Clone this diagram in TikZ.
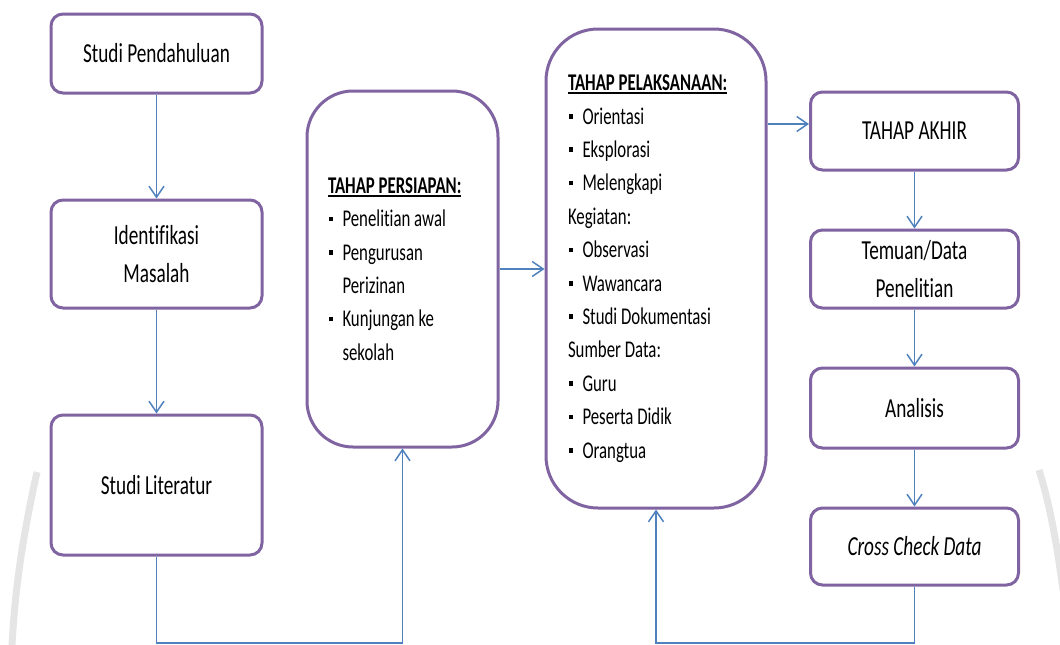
\documentclass[tikz,border=0pt]{standalone}
\usepackage{fontspec}
\setmainfont{Carlito}[FakeStretch=0.7,Ligatures=NoCommon]
\usetikzlibrary{arrows.meta}
\definecolor{boxpurple}{HTML}{8064A2}
\definecolor{arrblue}{HTML}{4F81BD}
\newcommand\ulhead[1]{\setbox0\hbox{#1}\rlap{\rule[-3.5pt]{\wd0}{1.8pt}}\box0}
\newcommand\bul[1]{\makebox[14.5pt][l]{\hspace*{0.5pt}\raisebox{5.5pt}{\rule{4.5pt}{4.5pt}}}#1}
\newcommand\cont[1]{\hspace*{14.5pt}#1}
\begin{document}
\begin{tikzpicture}[x=1pt,y=-1pt,
  box/.style={draw=boxpurple, line width=3pt, rounded corners=12pt, fill=white,
    align=center, inner sep=0pt, font=\fontsize{27.5}{38}\selectfont},
  bigbox/.style={draw=boxpurple, line width=3pt, fill=white, align=flush left,
    inner ysep=0pt, font=\fontsize{24}{33.4}\selectfont},
  arr/.style={draw=arrblue, line width=1.5pt, -{Straight Barb[length=11pt,width=15pt]}},
  ln/.style={draw=arrblue, line width=1.5pt}]
\useasboundingbox (0,0) rectangle (1060,645);
% faint watermark edges
\draw[black!10, line width=7pt] (37,472) .. controls (22,540) and (15,590) .. (12,645);
\draw[black!10, line width=7pt] (1039,470) .. controls (1050,505) and (1057,545) .. (1063,590);
% left column
\node[box, minimum width=211pt, minimum height=79pt] (sp) at (156.5,53.5) {Studi Pendahuluan};
\node[box, minimum width=211pt, minimum height=108pt] (im) at (156.5,254) {Identifikasi\\Masalah};
\node[box, minimum width=211pt, minimum height=140pt] (sl) at (156.5,485) {Studi Literatur};
% persiapan
\node[bigbox, rounded corners=46pt, minimum width=191pt, minimum height=356pt,
      text width=149pt, inner xsep=21pt] (tp) at (402.5,269)
  {\bfseries\ulhead{TAHAP PERSIAPAN:}\mdseries\\
   \bul{Penelitian awal}\\
   \bul{Pengurusan}\\
   \cont{Perizinan}\\
   \bul{Kunjungan ke}\\
   \cont{sekolah}};
% pelaksanaan
\node[bigbox, rounded corners=52pt, minimum width=220pt, minimum height=479pt,
      text width=176pt, inner xsep=22pt] (tl) at (656,268.5)
  {\bfseries\ulhead{TAHAP PELAKSANAAN:}\mdseries\\
   \bul{Orientasi}\\
   \bul{Eksplorasi}\\
   \bul{Melengkapi}\\
   Kegiatan:\\
   \bul{Observasi}\\
   \bul{Wawancara}\\
   \bul{Studi Dokumentasi}\\
   Sumber Data:\\
   \bul{Guru}\\
   \bul{Peserta Didik}\\
   \bul{Orangtua}};
% right column
\node[box, minimum width=208pt, minimum height=78pt] (ta) at (914.5,131) {TAHAP AKHIR};
\node[box, minimum width=208pt, minimum height=78pt] (td) at (914.5,269) {Temuan/Data\\Penelitian};
\node[box, minimum width=208pt, minimum height=80pt] (an) at (914.5,408) {Analisis};
\node[box, minimum width=208pt, minimum height=77pt] (cc) at (914.5,546.5) {\itshape Cross Check Data};
% connectors
\draw[arr] (sp.south) -- (im.north);
\draw[arr] (im.south) -- (sl.north);
\coordinate (bl) at (156.5,643);
\coordinate (br) at (914.5,643);
\draw[arr] (sl.south) -- (bl) -| (tp.south);
\draw[arr] (tp.east) -- (tp.east -| tl.west);
\coordinate (tly) at (0,124);
\draw[arr] (tl.east |- tly) -- (ta.west |- tly);
\draw[arr] (ta.south) -- (td.north);
\draw[arr] (td.south) -- (an.north);
\draw[arr] (an.south) -- (cc.north);
\draw[arr] (cc.south) -- (br) -| (tl.south);
\end{tikzpicture}
\end{document}
